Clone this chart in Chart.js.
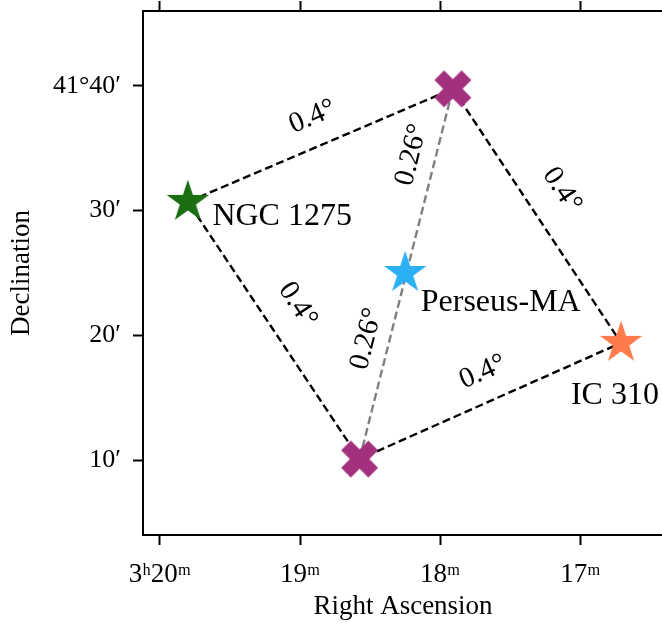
<!DOCTYPE html>
<html><head><meta charset="utf-8">
<script src="https://cdn.jsdelivr.net/npm/chart.js@4.4.0/dist/chart.umd.min.js"></script>
<style>html,body{margin:0;padding:0;background:#fff;overflow:hidden}#wrap{width:662px;height:624px;position:relative;overflow:hidden}</style>
</head><body><div id="wrap"><canvas id="c" width="674" height="624"></canvas></div>
<script>
// ---- data (RA in minutes past 3h, Dec in arcmin past 41°) ----
const sourceNames = ['NGC 1275', 'Perseus-MA', 'IC 310'];
const sourceRA = [19.80, 18.25, 16.71];
const sourceDec = [30.70, 25.00, 19.40];
const sourceColors = ['#1b6e12', '#2cb0f4', '#ff7b4c'];
const pointingRA = [17.91, 18.575];   // top, bottom
const pointingDec = [39.76, 10.09];
const pointingColor = '#a3307f';
const xTickValues = [20, 19, 18, 17];
const xTickLabels = ['3ʰ20ᵐ', '19ᵐ', '18ᵐ', '17ᵐ'];
const yTickValues = [10, 20, 30, 40];
const yTickLabels = ['10′', '20′', '30′', '41°40′'];
// separation labels (text, position in data coords, segment they follow)
const sepLabels = ['0.4°', '0.4°', '0.4°', '0.4°', '0.26°', '0.26°'];
const sepRA = [18.911, 17.132, 19.018, 17.696, 18.204, 18.525];
const sepDec = [37.51, 31.66, 22.44, 17.06, 34.47, 19.71];
const sepSegments = [['NGC', 'Ptop'], ['Ptop', 'IC'], ['NGC', 'Pbot'], ['Pbot', 'IC'], ['Pbot', 'Ptop'], ['Pbot', 'Ptop']];
// name label anchors (left, baseline)
const nameRA = [19.625, 18.139, 17.068];
const nameDec = [28.85, 21.96, 14.50];

const FAMILY = "'Liberation Serif', 'Times New Roman', serif";
Chart.defaults.font.family = FAMILY;
Chart.defaults.color = '#000';

const P = {
  NGC: {x: sourceRA[0], y: sourceDec[0]},
  PMA: {x: sourceRA[1], y: sourceDec[1]},
  IC: {x: sourceRA[2], y: sourceDec[2]},
  Ptop: {x: pointingRA[0], y: pointingDec[0]},
  Pbot: {x: pointingRA[1], y: pointingDec[1]}
};

function makeStar(color, R) {
  const s = Math.ceil(2 * R + 4);
  const c = document.createElement('canvas'); c.width = s; c.height = s;
  const g = c.getContext('2d'); g.translate(s / 2, s / 2);
  g.beginPath();
  for (let k = 0; k < 10; k++) {
    const a = -Math.PI / 2 + k * Math.PI / 5;
    const r = k % 2 ? R * 0.381966 : R;
    g.lineTo(r * Math.cos(a), r * Math.sin(a));
  }
  g.closePath(); g.fillStyle = color; g.fill();
  g.lineWidth = 1.4; g.strokeStyle = color; g.lineJoin = 'miter'; g.stroke();
  return c;
}
function makeX(color, size) {
  const s = Math.ceil(size + 4);
  const c = document.createElement('canvas'); c.width = s; c.height = s;
  const g = c.getContext('2d'); g.translate(s / 2, s / 2);
  const v = [[-1,-2],[0,-1],[1,-2],[2,-1],[1,0],[2,1],[1,2],[0,1],[-1,2],[-2,1],[-1,0],[-2,-1]];
  g.beginPath();
  v.forEach(([a, b]) => g.lineTo(a * size / 4, b * size / 4));
  g.closePath(); g.fillStyle = color; g.fill();
  g.lineWidth = 1.4; g.strokeStyle = color; g.stroke();
  return c;
}
const starImgs = sourceColors.map(c => makeStar(c, 20));
const xImg = makeX(pointingColor, 35);

const tickGrid = {drawOnChartArea: false, drawTicks: true, tickLength: 10, tickWidth: 2, tickColor: '#000'};
const border = {display: true, color: '#000', width: 2};
const X_MIN = 16.411, X_MAX = 20.12;
function noPad(s) { s.paddingTop = 0; s.paddingBottom = 0; s.paddingLeft = 0; s.paddingRight = 0; }

const annot = {
  id: 'annot',
  afterDatasetsDraw(chart) {
    const {ctx, scales: {x, y}} = chart;
    ctx.save();
    ctx.fillStyle = '#000';
    ctx.font = '32px ' + FAMILY;
    ctx.textAlign = 'left'; ctx.textBaseline = 'alphabetic';
    sourceNames.forEach((n, i) => {
      ctx.fillText(n, x.getPixelForValue(nameRA[i]), y.getPixelForValue(nameDec[i]));
    });
    ctx.font = '29px ' + FAMILY;
    ctx.textAlign = 'center'; ctx.textBaseline = 'middle';
    sepLabels.forEach((t, i) => {
      const [a, b] = sepSegments[i];
      const ax = x.getPixelForValue(P[a].x), ay = y.getPixelForValue(P[a].y);
      const bx = x.getPixelForValue(P[b].x), by = y.getPixelForValue(P[b].y);
      let ang = Math.atan2(by - ay, bx - ax);
      if (ang > Math.PI / 2) ang -= Math.PI;
      if (ang < -Math.PI / 2) ang += Math.PI;
      ctx.save();
      ctx.translate(x.getPixelForValue(sepRA[i]), y.getPixelForValue(sepDec[i]));
      ctx.rotate(ang);
      ctx.fillText(t, 0, 0);
      ctx.restore();
    });
    ctx.restore();
  }
};

new Chart(document.getElementById('c'), {
  type: 'scatter',
  data: {
    datasets: [
      {label: 'pointings', data: pointingRA.map((v, i) => ({x: v, y: pointingDec[i]})),
       pointStyle: xImg, pointRadius: 10, order: 0},
      {label: 'sources', data: sourceRA.map((v, i) => ({x: v, y: sourceDec[i]})),
       pointStyle: starImgs, pointRadius: 10, order: 0},
      {label: 'sep', data: [P.Pbot, P.Ptop], showLine: true, borderColor: '#808080',
       borderDash: [8, 4], borderWidth: 2.4, pointRadius: 0, order: 1},
      {label: 'box', data: [P.NGC, P.Ptop, P.IC, P.Pbot, P.NGC], showLine: true, borderColor: '#000',
       borderDash: [8, 4], borderWidth: 2.4, pointRadius: 0, order: 2}
    ]
  },
  options: {
    responsive: false, animation: false, devicePixelRatio: 1, events: [],
    layout: {padding: 0},
    plugins: {legend: {display: false}, tooltip: {enabled: false}},
    scales: {
      x: {
        type: 'linear', reverse: true, min: X_MIN, max: X_MAX, position: 'bottom',
        afterBuildTicks: s => { s.ticks = xTickValues.map(v => ({value: v})); },
        afterFit: s => { s.height = 89; noPad(s); },
        ticks: {callback: v => xTickLabels[xTickValues.indexOf(v)], font: {size: 27}, color: '#000',
                padding: 14, maxRotation: 0, autoSkip: false},
        grid: tickGrid, border: border,
        title: {display: true, text: 'Right Ascension', font: {size: 27}, color: '#000', padding: {top: 0, bottom: 1}}
      },
      x2: {
        type: 'linear', reverse: true, min: X_MIN, max: X_MAX, position: 'top',
        afterBuildTicks: s => { s.ticks = xTickValues.map(v => ({value: v})); },
        afterFit: s => { s.height = 11; noPad(s); },
        ticks: {display: false}, grid: tickGrid, border: border
      },
      y: {
        type: 'linear', min: 4, max: 46, position: 'left',
        afterBuildTicks: s => { s.ticks = yTickValues.map(v => ({value: v})); },
        afterFit: s => { s.width = 143; noPad(s); },
        ticks: {callback: v => yTickLabels[yTickValues.indexOf(v)], font: {size: 26}, color: '#000', padding: 12},
        grid: tickGrid, border: border,
        title: {display: true, text: 'Declination', font: {size: 27}, color: '#000', padding: {top: 6, bottom: 0}}
      }
    }
  },
  plugins: [annot]
});
</script>
</body></html>
